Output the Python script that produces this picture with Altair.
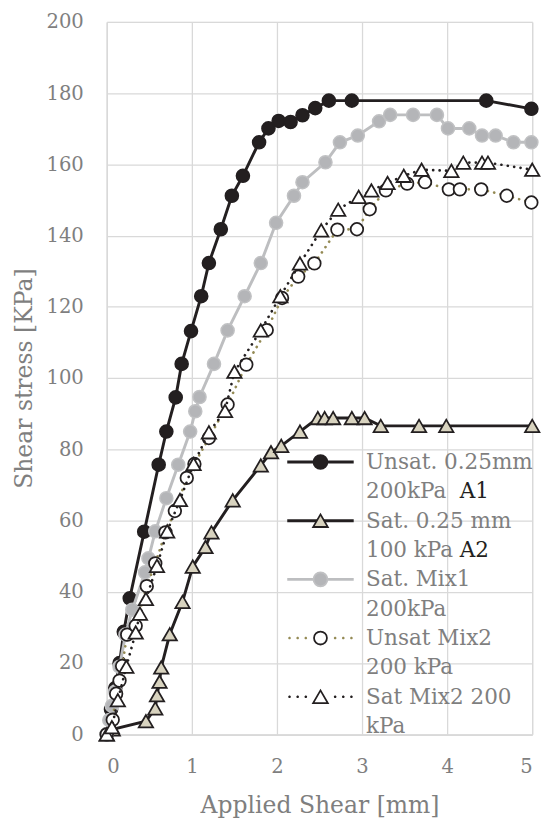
import altair as alt
import pandas as pd

# ---------------- data ----------------
a1_x = [0, 0.05, 0.10, 0.15, 0.20, 0.27, 0.44, 0.61, 0.70, 0.81, 0.88, 0.99, 1.11, 1.20, 1.34,
        1.47, 1.60, 1.79, 1.90, 2.02, 2.16, 2.30, 2.45, 2.61, 2.88, 4.46, 4.99]
a1_y = [0, 7, 13, 20, 28.8, 38.2, 56.9, 75.7, 85, 94.6, 104, 113.2, 123, 132.3, 141.8,
        151.2, 156.8, 166.2, 170.1, 172.2, 171.9, 173.8, 175.8, 177.9, 177.9, 177.9, 175.6]

a2_x = [0, 0.07, 0.46, 0.57, 0.59, 0.62, 0.64, 0.74, 0.89, 1.01, 1.16, 1.23, 1.48, 1.81,
        1.93, 2.05, 2.27, 2.48, 2.56, 2.66, 2.88, 3.03, 3.22, 3.67, 3.99, 5.0]
a2_y = [0, 1.4, 3.7, 7.3, 11, 14.8, 18.8, 28.1, 37.2, 47.1, 52.6, 56.7, 65.7, 75.5,
        79.2, 81, 85, 88.8, 88.8, 88.8, 88.8, 88.8, 86.6, 86.6, 86.6, 86.6]

m1_x = [0, 0.03, 0.06, 0.10, 0.15, 0.22, 0.30, 0.45, 0.49, 0.57, 0.70, 0.84, 0.98, 1.04,
        1.09, 1.26, 1.42, 1.62, 1.81, 1.99, 2.20, 2.30, 2.57, 2.74, 2.95, 3.20, 3.33, 3.60,
        3.88, 4.01, 4.26, 4.41, 4.57, 4.78, 4.99]
m1_y = [0, 4, 8, 12, 19, 28, 35, 45.5, 49.4, 57, 66.3, 75.7, 85, 90.7,
        94.7, 104, 113.4, 123, 132.3, 143.6, 151.2, 155, 160.6, 166.2, 168.1, 172.1, 173.9, 173.9,
        173.9, 170.1, 170.1, 168.1, 168.1, 166.2, 166.2]

u2_x = [0, 0.07, 0.11, 0.15, 0.18, 0.24, 0.34, 0.47, 0.57, 0.69, 0.80, 0.94, 1.03, 1.20,
        1.42, 1.64, 1.88, 2.06, 2.25, 2.44, 2.71, 2.94, 3.09, 3.28, 3.53, 3.74, 4.02, 4.15,
        4.40, 4.70, 4.99]
u2_y = [0, 4.1, 11.4, 15.1, 19.2, 28, 30.5, 41.6, 48, 56.7, 62.7, 72, 75.9, 83.2,
        92.6, 103.8, 113.5, 122.5, 128.5, 132.2, 141.7, 141.8, 147.4, 152.7, 154.6, 155, 153, 153,
        153, 151.2, 149.3]

s2_x = [0, 0.06, 0.13, 0.23, 0.34, 0.39, 0.46, 0.59, 0.71, 0.86, 1.02, 1.20, 1.39, 1.50,
        1.81, 2.04, 2.27, 2.52, 2.72, 2.96, 3.11, 3.30, 3.49, 3.70, 4.05, 4.19, 4.41, 4.48, 5.0]
s2_y = [0, 2, 9.6, 19, 28.6, 33.9, 38, 47.3, 57, 65.8, 75.9, 84.8, 90.8, 101.8,
        113.4, 123, 132.2, 141.5, 147.3, 150.9, 152.7, 154.8, 156.8, 158.5, 158.2, 160.5, 160.5, 160.5, 158.5]

series_keys = ["A1", "A2", "M1", "U2", "S2"]
legend_entries = ["Unsat. 0.25mm", "200kPa A1", "Sat. 0.25 mm", "100 kPa A2", "Sat. Mix1",
                  "200kPa", "Unsat Mix2", "200 kPa", "Sat Mix2 200", "kPa"]
x_ticks = [0, 1, 2, 3, 4, 5]
y_ticks = [0, 20, 40, 60, 80, 100, 120, 140, 160, 180, 200]

# ---------------- styling ----------------
BLACK = "#231f20"
TAN = "#d8d3bf"
GREY = "#b4b5b8"
GREY_EDGE = "#c0c1c3"
GREY_LINE = "#bdbec0"
OLIVE = "#948a54"
WHITE = "#ffffff"
NONE = "transparent"
GRID = "#d9d9d9"
TEXT = "#7f7f7f"
FONT = "DejaVu Serif"

frames = []
for key, xs, ys in zip(series_keys, [a1_x, a2_x, m1_x, u2_x, s2_x], [a1_y, a2_y, m1_y, u2_y, s2_y]):
    frames.append(pd.DataFrame({"series": key, "x": xs, "y": ys, "i": list(range(len(xs)))}))
df = pd.concat(frames, ignore_index=True)

styles = {
    "A1": dict(lc=BLACK, lw=3, dash=None, shape="circle", size=180, fill=BLACK, stroke=BLACK, sw=1.5),
    "A2": dict(lc=BLACK, lw=3, dash=None, shape="triangle-up", size=215, fill=TAN, stroke=BLACK, sw=1.8),
    "M1": dict(lc=GREY_LINE, lw=3, dash=None, shape="circle", size=180, fill=GREY, stroke=GREY_EDGE, sw=1.5),
    "U2": dict(lc=OLIVE, lw=2.7, dash=[0.1, 6.5], shape="circle", size=165, fill=WHITE, stroke=BLACK, sw=1.8),
    "S2": dict(lc=BLACK, lw=2.7, dash=[0.1, 6.5], shape="triangle-up", size=215, fill=WHITE, stroke=BLACK, sw=1.8),
}

axis_common = dict(grid=True, gridColor=GRID, gridWidth=1.3, domainColor=GRID, domainWidth=1.3,
                   ticks=False, tickSize=0, labelFont=FONT, labelFontSize=20, labelColor=TEXT,
                   titleFont=FONT, titleFontSize=24, titleColor=TEXT, titleFontWeight="normal")

x_enc = alt.X("x:Q", scale=alt.Scale(domain=[0, 5], nice=False, zero=False),
              axis=alt.Axis(values=x_ticks, title="Applied Shear [mm]", labelPadding=23,
                            titlePadding=18, **axis_common))
y_enc = alt.Y("y:Q", scale=alt.Scale(domain=[0, 200], nice=False),
              axis=alt.Axis(values=y_ticks, title="Shear stress [KPa]", labelPadding=24,
                            titlePadding=10, **axis_common))

layers = []
for key in series_keys:
    st = styles[key]
    base = alt.Chart(df).transform_filter(alt.datum.series == key)
    line_kw = dict(color=st["lc"], strokeWidth=st["lw"])
    if st["dash"]:
        line_kw.update(strokeDash=st["dash"], strokeCap="round")
    layers.append(base.mark_line(**line_kw).encode(x=x_enc, y=y_enc, order="i:Q"))
    layers.append(base.mark_point(shape=st["shape"], size=st["size"], filled=True, fill=st["fill"],
                                  stroke=st["stroke"], strokeWidth=st["sw"], opacity=1)
                  .encode(x=x_enc, y=y_enc))

# ---------------- legend (two overlaid legends: lines, then markers) ----------------
H = 4.53  # half length of the legend line, in symbol units (1 unit = 7.5 px)
EXT = f"M{-H},0M{H},0"
SOLID = f"M{-H},0H{H}"


def dot(cx, r=0.18):
    return f"M{cx - r:.3f},0A{r},{r} 0 1,1 {cx + r:.3f},0A{r},{r} 0 1,1 {cx - r:.3f},0Z"


DOTTED = EXT + "".join(dot(c) for c in [-4.22, -3.11, -2.0, 2.0, 3.11, 4.22])
CIRC = EXT + "M-0.95,0A0.95,0.95 0 1,1 0.95,0A0.95,0.95 0 1,1 -0.95,0Z"
CIRC_S = EXT + "M-0.88,0A0.88,0.88 0 1,1 0.88,0A0.88,0.88 0 1,1 -0.88,0Z"
TRI = EXT + "M0,-0.86L1.0,0.86L-1.0,0.86Z"

line_shapes = [SOLID, EXT, SOLID, EXT, SOLID, EXT, DOTTED, EXT, DOTTED, EXT]
line_strokes = [BLACK, NONE, BLACK, NONE, GREY_LINE, NONE, NONE, NONE, NONE, NONE]
line_fills = [NONE, NONE, NONE, NONE, NONE, NONE, OLIVE, NONE, BLACK, NONE]

mark_shapes = [CIRC, EXT, TRI, EXT, CIRC, EXT, CIRC_S, EXT, TRI, EXT]
mark_strokes = [BLACK, NONE, BLACK, NONE, GREY_EDGE, NONE, BLACK, NONE, BLACK, NONE]
mark_fills = [BLACK, NONE, TAN, NONE, GREY, NONE, WHITE, NONE, WHITE, NONE]

leg_df = pd.DataFrame({"entry": legend_entries, "entry2": legend_entries})

LEG_X, LEG_Y = 207.5, 439
legend_common = dict(orient="none", legendX=LEG_X, legendY=LEG_Y, title=None, padding=0,
                     rowPadding=8, symbolSize=225, labelFont=FONT, labelFontSize=22,
                     labelLimit=400, direction="vertical")

leg1 = alt.Legend(labelOffset=35.5, labelColor=TEXT, symbolStrokeWidth=3,
                  labelExpr="replace(replace(datum.label, ' A1', ''), ' A2', '')", **legend_common)
leg2 = alt.Legend(labelOffset=131.5, labelColor=BLACK, symbolStrokeWidth=1.8,
                  labelExpr="datum.label == '200kPa A1' ? 'A1' : (datum.label == '100 kPa A2' ? 'A2' : '')",
                  **legend_common)

legend_lines = alt.Chart(leg_df).transform_filter("false").mark_point(filled=True, opacity=1).encode(
    shape=alt.Shape("entry:N", scale=alt.Scale(domain=legend_entries, range=line_shapes), legend=leg1),
    stroke=alt.Stroke("entry:N", scale=alt.Scale(domain=legend_entries, range=line_strokes), legend=leg1),
    fill=alt.Fill("entry:N", scale=alt.Scale(domain=legend_entries, range=line_fills), legend=leg1),
)
legend_marks = alt.Chart(leg_df).transform_filter("false").mark_point(filled=True, opacity=1).encode(
    shape=alt.Shape("entry2:N", scale=alt.Scale(domain=legend_entries, range=mark_shapes), legend=leg2),
    stroke=alt.Stroke("entry2:N", scale=alt.Scale(domain=legend_entries, range=mark_strokes), legend=leg2),
    fill=alt.Fill("entry2:N", scale=alt.Scale(domain=legend_entries, range=mark_fills), legend=leg2),
)

chart = (
    alt.layer(*layers, legend_lines, legend_marks)
    .resolve_scale(shape="independent", stroke="independent", fill="independent")
    .resolve_legend(shape="independent", stroke="independent", fill="independent")
    .properties(width=435, height=728.5,
                autosize=alt.AutoSizeParams(type="none"),
                padding={"left": 101, "top": 5, "right": 10, "bottom": 86})
    .configure_view(stroke=None)
    .configure(background="white")
)

chart.save("out.html", embed_options={"renderer": "svg", "actions": False})
